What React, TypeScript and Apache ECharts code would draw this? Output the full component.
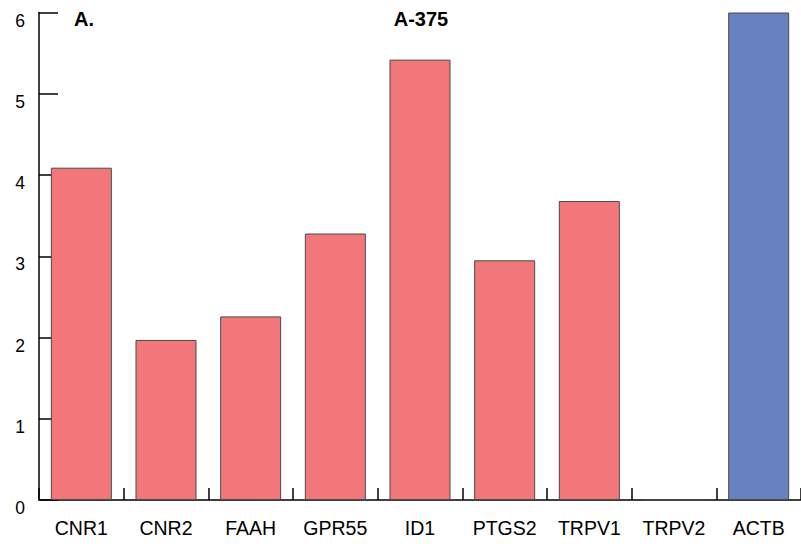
import React, { useEffect, useRef } from "react";
import * as echarts from "echarts";

// Relative expression per gene, A-375 cell line
const genes = ["CNR1", "CNR2", "FAAH", "GPR55", "ID1", "PTGS2", "TRPV1", "TRPV2", "ACTB"];
const expression = [4.09, 1.97, 2.26, 3.28, 5.42, 2.95, 3.68, 0, 6.0];
const yTicks = [0, 1, 2, 3, 4, 5, 6];

const GENE_COLOR = "#F2777A";
const REF_COLOR = "#6882C1";
const REF_GENE = "ACTB";

export default function App() {
  const ref = useRef<HTMLDivElement>(null);

  useEffect(() => {
    if (!ref.current) return;
    const chart = echarts.init(ref.current, null, { renderer: "svg" });
    const font = "'Liberation Sans', Arial, sans-serif";

    chart.setOption({
      animation: false,
      backgroundColor: "#ffffff",
      grid: { left: 39, right: -3, top: 12.5, bottom: 44, containLabel: false },
      graphic: [
        {
          type: "text",
          left: 74,
          top: 9,
          style: { text: "A.", fontFamily: font, fontSize: 20, fontWeight: "bold", fill: "#000" },
        },
        {
          type: "text",
          x: 421,
          y: 9,
          style: {
            text: "A-375",
            fontFamily: font,
            fontSize: 20,
            fontWeight: "bold",
            fill: "#000",
            align: "center",
            verticalAlign: "top",
          },
        },
      ],
      xAxis: {
        type: "category",
        data: genes,
        axisLine: { lineStyle: { color: "#000", width: 1.5 } },
        axisTick: { show: true, inside: true, length: 12, lineStyle: { color: "#000", width: 1.5 } },
        axisLabel: { fontFamily: font, fontSize: 19.5, color: "#000", margin: 18 },
      },
      yAxis: {
        type: "value",
        min: yTicks[0],
        max: yTicks[yTicks.length - 1],
        interval: 1,
        splitLine: { show: false },
        axisLine: { show: true, lineStyle: { color: "#000", width: 1.5 } },
        axisTick: { show: true, inside: true, length: 19, lineStyle: { color: "#000", width: 1.5 } },
        axisLabel: {
          fontFamily: font,
          fontSize: 17.5,
          color: "#000",
          margin: 14,
          verticalAlign: "top",
          padding: [-1, 0, 0, 0],
        },
      },
      series: [
        {
          type: "bar",
          barWidth: 61,
          data: genes.map((g, i) => ({
            value: expression[i],
            itemStyle: {
              color: g === REF_GENE ? REF_COLOR : GENE_COLOR,
              borderColor: "#4a4a4a",
              borderWidth: 1,
            },
          })),
        },
      ],
    });

    return () => chart.dispose();
  }, []);

  return (
    <div
      ref={ref}
      style={{ position: "fixed", left: 0, top: 0, width: 801, height: 544, background: "#fff" }}
    />
  );
}
